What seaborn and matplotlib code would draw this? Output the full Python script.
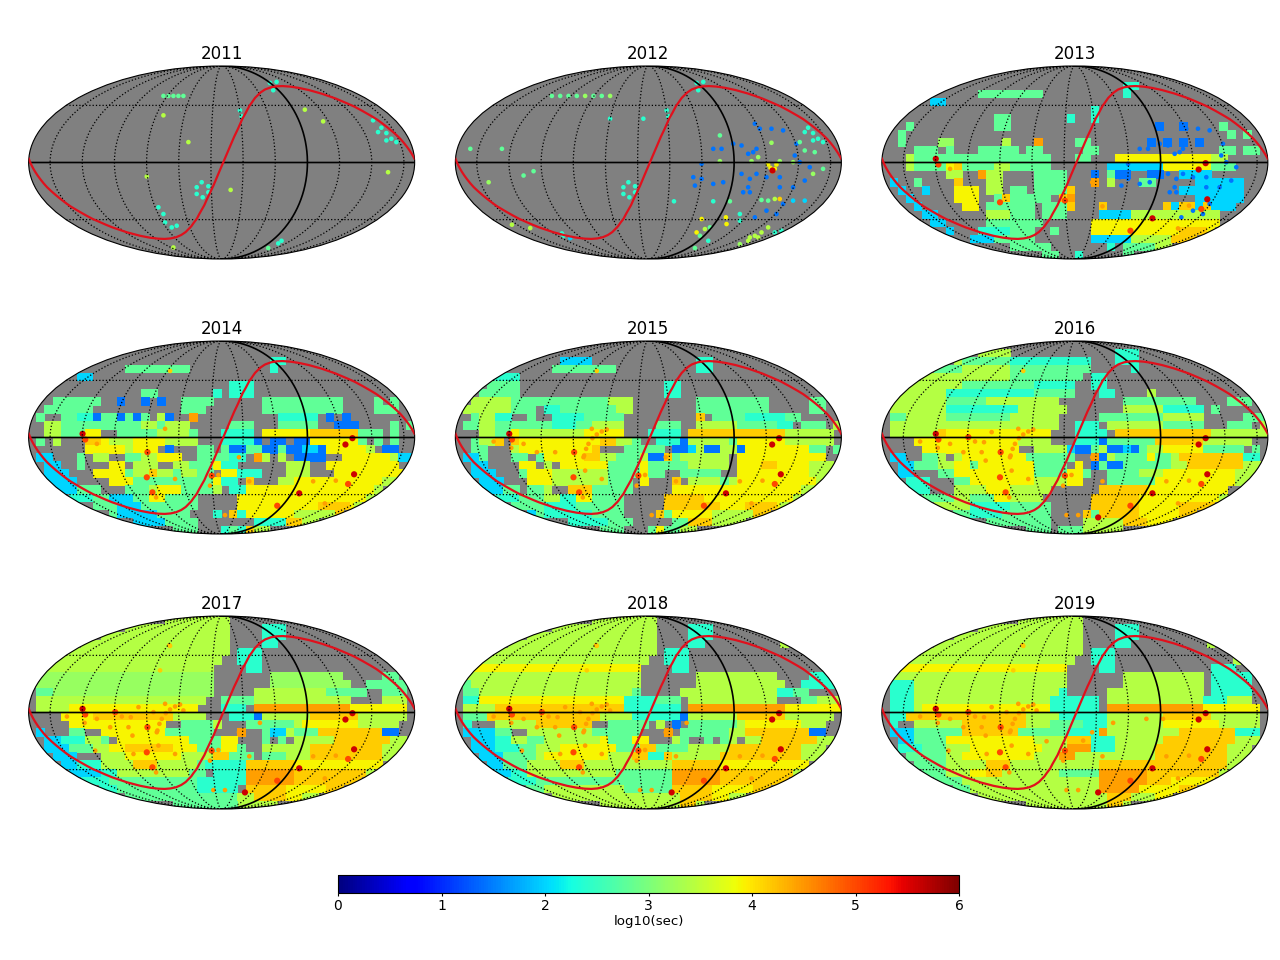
"""
Yearly sky exposure maps in Mollweide projection, 2011-2019.
Values were read by eye off the maps. Each map is a 48x24 raster, run-length
coded as "<count><level>", "." meaning no exposure (grey).
"""
import matplotlib
matplotlib.use("Agg")
import matplotlib.pyplot as plt
import numpy as np
import pandas as pd
import seaborn as sns

years = [2011, 2012, 2013, 2014, 2015, 2016, 2017, 2018, 2019]

# log10(sec) for each level letter
level_names = list("bctglkyaord")
level_values = [1.45, 2.0, 2.4, 2.8, 3.2, 3.4, 3.9, 4.15, 4.45, 5.0, 5.6]

rows_2013 = [
    "", "", "30. 2t", "12. 8g 10. 1t", "6. 2c", "26. 1t",
    "14. 2g 7. 1t 2. 1t", "3. 1g 10. 2g 18. 1b 2. 1b 4. 1g",
    "2. 1g 40. 1g 1. 1g", "2. 1g 4. 2l 6. 1k 3. 1o 4. 2g 7. 1b 1. 1b 1. 1b 1. 1b",
    "4. 3g 1. 1g 3. 5g 1. 2g 5. 2g 15. 2g 1. 2g",
    "3. 1k 17g 3. 2g 3. 12y 2k",
    "3. 1k 4g 1y 1a 4g 2k 5g 7. 7c 6y 3g",
    "8. 2k 2. 1o 2k 4. 4g 3. 1b 1. 1g 2b 2. 2b 2. 4c",
    "1. 1c 2. 1g 4. 1a 3. 2k 4. 4g 3. 1o 1. 1k 3. 2g 5. 6c",
    "2. 1c 2. 1c 3. 3y 1. 2k 1. 2g 1. 4g 1a 13. 8c",
    "3. 1c 5. 3y 2. 1g 1a 5g 1. 1a 1o 15. 6c",
    "4. 1c 5. 2y 1. 6g 1. 3g 1a 3. 1a 7. 1a 1c 2a 1c 1a 3c",
    "5. 2c 6. 3k 3g 1. 3g 4. 4c 11k",
    "6. 2c 5. 7g 6. 16y",
    "8. 1c 3. 4t 3g 2. 1g 4. 11y 4a 1y",
    "11. 3c 5g 7. 5c 5k 4a 1k",
    "16. 5g 7. 1t 1. 4g 2k",
    "20. 2g 2. 1t 5. 2g 1t",
]
rows_2014 = [
    "", "", "30. 2t", "12. 8g 10. 1t", "6. 2c", "25. 3t",
    "14. 2g 7. 1t 1. 3t",
    "3. 6g 2. 1b 2. 1b 1. 1b 2. 4g 6. 10g 4. 1g 1. 1g",
    "2. 6g 11. 3g 7. 10g 4. 3g",
    "1. 1g 2. 2g 2t 1b 2g 1b 1g 1b 1g 1. 1k 1b 2. 1o 10. 5t 1. 1b 1. 1b",
    "2. 2k 10g 2k 1g 3k 5. 3g 3. 5g 2. 3b 4. 1g 1. 1g",
    "2. 2k 3g 2y 2. 5g 4k 1g 3. 4t 1. 6y 6a 3g 1. 1g",
    "1. 1g 1. 1k 3. 2a 1y 3k 4y 4k 3. 4t 1b 1. 2b 1. 2b 6y 1g 1. 1g 1. 1g",
    "7. 5y 1k 3y 1. 1b 3. 2g 1. 1g 2b 2g 2b 1g 2b 2c 1b 5y 1k 1. 2b",
    "1. 2c 3. 1g 1. 2k 2. 2g 2k 3y 2. 4g 2t 1. 1o 1k 1. 1k 1. 4b 2. 6y 1k 3c",
    "2. 2c 2. 1g 3. 2y 1. 3k 2. 2k 3g 1y 2t 6. 3k 2. 9y",
    "2. 3c 3. 4y 1g 2k 1a 2k 1g 2k 2g 1. 2y 3t 3. 3k 3. 9y",
    "2. 4c 4. 3y 8g 2g 1y 2t 1. 1a 3. 2k 11y 2k",
    "3. 3c 3g 3. 3g 1k 3y 4g 1k 1. 2t 16y 1k",
    "5. 3t 2g 3c 2g 2y 4g 5. 16y 2k",
    "8. 3g 3c 5g 2g 5. 10y 4a 1y 1k",
    "10. 1g 5c 4g 3. 1t 1. 1a 1t 6y 6k 3a 1k",
    "13. 4c 4g 7. 4t 2a 4k 4k",
    "18. 3g 3. 1t 1g 1t 1a 2k",
]
rows_2015 = [
    "", "", "13. 4c 13. 2t", "12. 8g 10. 2t", "5. 3t", "4. 4g 18. 2t",
    "3. 5g 18. 2t",
    "2. 5k 3g 9g 3k 8. 9g 5. 2g",
    "1. 3k 3k 3g 1. 2t 7g 2k 8. 9g 5. 2g",
    "2. 1g 2k 2t 2. 1g 2. 4t 5g 9. 1a 1. 4g 5t 2g",
    "1. 2g 2k 5g 2g 3t 2g 4k 4. 3g 2. 5k 5g 2t 1. 3g 1. 1k",
    "3. 2k 2g 1y 5k 3k 5y 3. 4t 1. 6a 6a 6k",
    "2. 1g 2k 1a 1. 1a 1y 9y 2a 2k 1g 2. 3t 1b 5k 1g 6y 6k",
    "2. 2g 3. 1k 9y 1a 3. 5g 1. 2b 1c 1k 2b 2k 1b 2y 6y 2g 1. 1g 1g",
    "1. 2c 1g 3. 2g 1. 1g 5y 2a 2k 3g 1k 2b 1a 1g 6k 1. 11y",
    "2. 2c 4. 2y 1. 1k 1. 6y 4g 1y 5g 5k 1. 3y 2a 4y 3k",
    "2. 3c 3. 1g 3y 7k 2g 2g 1y 2g 2. 5g 2. 9y 3k",
    "3. 3c 3. 3y 7k 3g 1. 1y 3. 1a 1. 4k 1g 1k 10y 1k",
    "3. 3c 2g 1. 2g 1k 2. 3a 5g 5. 16y 2k",
    "5. 3t 3g 2k 2t 2y 4g 5. 5a 11y 1k",
    "7. 4g 4t 6g 5. 7a 3y 4a 1y 1k",
    "9. 1c 1g 6t 4g 4. 1a 1g 5y 5k 5a",
    "14. 5t 3g 5. 2g 3a 5k 1k",
    "18. 3g 3. 1g 1y 2g 2k",
]
rows_2016 = [
    "", "12. 4k 13. 3t",
    "9. 1k 3g 3g 10t 3. 3t 8. 1k",
    "6. 1g 3g 6k 10g 5. 1t",
    "4. 12k 9g 1. 2t",
    "3. 7k 9g 5t 2. 2t",
    "2. 6k 11t 5g 3. 2t 4. 1k",
    "1. 7k 5g 5k 4k 8. 9g 4. 3g",
    "1. 7k 9t 6k 7. 5k 5t 1. 1g",
    "1. 2g 5k 8g 6k 5. 8g 5k 5. 3g",
    "1. 6k 15k 2. 3t 1. 7k 5g 3. 3g 1. 1k",
    "1. 6k 1a 13y 3. 4t 1. 12a 7k",
    "4. 13y 4k 3. 3t 1b 6g 6a 6k",
    "5. 12y 2. 4k 1c 2b 1g 1k 2b 1c 1b 1g 2k 5y 5g 1. 1g",
    "1. 2c 2. 2g 1k 1. 1k 8y 6g 2. 1o 1b 1k 4g 1y 2g 1k 8a 2t",
    "2. 2c 3g 2k 2y 1g 7y 4g 1. 1y 1. 1b 1g 2b 1g 1g 2g 2g 2k 7a 3k",
    "2. 2c 3. 2g 2y 8y 4g 2y 1g 2. 4g 3k 9y 3k",
    "3. 3t 3. 2g 2y 6y 4k 2y 3. 6g 10y 2k",
    "3. 3t 3. 4k 3y 4k 1k 6. 6a 10y",
    "5. 4g 2k 3g 2y 4k 6. 6a 10y 1k",
    "6. 5k 5t 5g 5. 6a 5y 5a",
    "8. 3g 4t 6g 4. 1a 1g 5a 5y 5a",
    "13. 8g 4. 2k 3k 3a 5y 3a",
    "18. 3g 1. 3g 2k 1k 2k",
]
rows_2017 = [
    "17. 8k", "12. 13k 4. 3t", "9. 16k 4. 3t 8. 1k", "6. 19k 4. 2t 12. 1k",
    "4. 21k 1. 3t", "3. 21k 2. 3t", "2. 21k 4. 2t",
    "1. 22l 7. 9l 5. 2g",
    "1. 22l 7. 10l 2. 5g",
    "1. 2g 20l 5. 1k 8k 5g 2. 3g",
    "1. 21k 2. 3g 1g 12k 4. 3k",
    "1. 4k 16y 3. 3t 1. 12o 7y",
    "4. 4y 10a 4k 3. 3t 1b 6k 6a 6k",
    "5. 12y 2. 4g 1k 3. 6g 1k 7y 5k",
    "1. 1c 3. 2g 2. 8y 6g 3. 1o 2. 1g 2c 1k 2g 1g 8a 2b",
    "2. 2c 3t 2k 1g 1. 9y 4g 2y 3. 1g 1. 1g 1. 2k 1k 2k 7a 2k",
    "2. 3c 3g 2k 2y 6a 3y 1g 2g 2y 1g 2. 3k 3k 9a 3k",
    "3. 3c 3. 3k 7y 4k 2a 2g 1g 1. 3g 3k 9a 2k",
    "4. 2c 3t 4k 3a 5k 1g 5t 6a 11y",
    "5. 4c 2t 4k 5k 2g 1. 4t 6o 9a 1k",
    "6. 4t 1g 10g 6t 6o 3a 6a 2y",
    "8. 3t 10g 5t 1. 5a 5y 5a",
    "12. 14g 2k 4a 2y 6k",
    "18. 8g 2k 2k 1k",
]
rows_2018 = [
    "17. 8k", "12. 13k 4. 3t", "9. 16k 4. 3t 8. 1y", "6. 19k 4. 2t 10. 3k",
    "4. 21k 1. 3t", "3. 21k 2. 3t", "2. 21y 4. 2t",
    "1. 22k 7. 10k 4. 3t",
    "1. 1g 21k 7. 11k 2. 5t",
    "1. 2g 19k 1g 5. 9k 3k 2t 2g",
    "1. 2t 18y 4t 3g 1. 11k 3. 2g 3k",
    "1. 4k 16a 3t 4t 1. 12o 7y",
    "1. 3g 14a 4k 3t 3t 1b 6k 6a 6k",
    "1. 1t 3. 5k 7a 2. 5g 1. 1k 1. 1b 1. 6g 1k 7y 3k",
    "1. 4c 2g 2. 8k 6g 3. 1o 1. 1g 5g 2k 8a 2b",
    "2. 3c 2t 2k 2g 7k 1y 3g 2y 3. 1k 1g 2. 1g 1. 1g 1k 1. 2k 7a 2k",
    "2. 3c 3t 2g 3k 7y 3g 2a 4g 3k 2k 9a 3k",
    "3. 3c 4g 1k 6y 2y 3k 2a 2t 1a 6k 10a 3k",
    "4. 2c 3g 4k 3a 5k 6k 6a 11y",
    "5. 2c 2t 6k 5k 2g 5g 6o 9a 1k",
    "6. 4t 11g 6g 6o 3a 6a 2y",
    "8. 3g 10k 6g 5a 5y 5a",
    "12. 14k 2k 4a 2y 6k 2a",
    "18. 8k 2k 2a 1k",
]
rows_2019 = [
    "17. 8k", "12. 13k 4. 3t", "9. 16k 4. 3t 8. 1y", "6. 19k 4. 2t 10. 3k",
    "4. 21k 1. 3t", "3. 21k 2. 3t 15. 1k", "2. 21y 4. 2t 12. 3t",
    "1. 22k 7. 10k 1. 5t",
    "1. 3t 19k 7. 10k 1. 5t",
    "1. 3t 18k 1t 5. 12k 1. 5t",
    "1. 3t 17k 6t 1. 12k 3t 3k",
    "1. 3t 1k 16y 2t 4t 1. 12o 7y",
    "1. 2t 15a 4k 6t 7k 6a 6k",
    "1. 1t 2. 6k 8a 3k 4g 3t 7k 7y 5k",
    "1. 3c 6g 7a 6g 4t 1o 3k 5k 1k 7a 3t",
    "2. 2c 4g 11y 4k 3a 3t 6k 9a 3k",
    "2. 3t 3g 3k 9y 3k 3o 3t 3k 2k 9a 3k",
    "3. 5g 2k 9y 3k 2o 9k 1k 9a 3k",
    "4. 4g 2k 3k 3a 5k 6k 6a 10a 2k",
    "5. 3g 3k 2y 2a 5k 2k 5g 6o 9a 1k",
    "6. 4g 11k 6k 6o 3a 6y 2k",
    "8. 3g 10k 6k 5o 5y 5a",
    "12. 14k 2k 3a 3k 3y 3a 3k",
    "18. 8k 2k 2a 1k",
]
year_rows = {2013: rows_2013, 2014: rows_2014, 2015: rows_2015, 2016: rows_2016,
             2017: rows_2017, 2018: rows_2018, 2019: rows_2019}

# faint patches, position on a 1160x577 map raster whose centre is (605, 366)
spots_2011 = [
    (430, 167, "g"), (445, 167, "g"), (460, 167, "g"), (475, 167, "g"), (490, 167, "g"),
    (530, 440, "t"), (530, 460, "t"), (545, 425, "t"), (565, 437, "t"), (548, 470, "t"),
    (565, 455, "t"), (750, 128, "t"), (770, 125, "t"), (760, 150, "t"), (1085, 262, "t"),
    (1100, 278, "t"), (1115, 295, "t"), (1130, 305, "t"), (1075, 275, "t"), (1100, 300, "t"),
    (1060, 240, "t"), (660, 210, "t"), (665, 228, "t"), (430, 520, "t"), (435, 545, "t"),
    (455, 560, "t"), (470, 555, "t"), (415, 500, "t"), (785, 600, "t"), (775, 608, "t"),
    (745, 622, "g"), (1105, 395, "k"), (632, 448, "k"), (910, 243, "k"), (855, 208, "k"),
    (505, 305, "k"), (380, 408, "k"), (460, 620, "k"), (430, 225, "k"),
]
spots_2012 = [
    (315, 167, "g"), (340, 167, "g"), (365, 167, "g"), (390, 167, "g"), (415, 167, "l"),
    (440, 167, "g"), (465, 167, "g"), (490, 167, "l"),
    (530, 440, "t"), (530, 460, "t"), (545, 425, "t"), (565, 437, "t"), (548, 470, "t"),
    (565, 455, "t"), (750, 128, "t"), (770, 125, "t"), (755, 150, "t"), (1085, 262, "t"),
    (1100, 278, "t"), (1115, 295, "t"), (1130, 305, "t"), (1075, 275, "t"), (1100, 300, "t"),
    (660, 210, "t"), (665, 228, "t"), (590, 235, "t"), (490, 235, "t"), (682, 482, "t"),
    (125, 425, "l"), (70, 325, "g"), (165, 325, "g"), (230, 405, "g"), (260, 392, "g"),
    (800, 325, "b"), (825, 325, "b"), (860, 310, "b"), (885, 315, "b"), (920, 335, "b"),
    (930, 325, "b"), (905, 340, "b"), (1050, 310, "b"), (1045, 345, "b"), (765, 370, "b"),
    (740, 410, "b"), (765, 415, "b"), (745, 435, "b"), (800, 430, "b"), (830, 425, "b"),
    (885, 400, "b"), (910, 415, "b"), (905, 440, "b"), (930, 400, "b"), (960, 410, "b"),
    (1000, 410, "b"), (1040, 440, "b"), (1075, 420, "b"), (1090, 380, "b"), (1060, 365, "b"),
    (1000, 440, "b"), (890, 455, "b"), (910, 455, "b"), (925, 250, "b"), (940, 265, "b"),
    (975, 265, "b"), (1010, 270, "b"), (1040, 480, "c"), (1075, 480, "c"), (925, 530, "b"),
    (960, 510, "b"), (990, 520, "b"), (1010, 490, "b"), (880, 520, "t"), (880, 540, "t"),
    (820, 285, "g"), (975, 307, "l"), (820, 362, "l"), (915, 362, "l"), (935, 350, "l"),
    (1000, 362, "l"), (1040, 365, "l"), (1130, 385, "g"), (1100, 400, "l"), (1060, 305, "g"),
    (1075, 330, "g"), (1105, 335, "g"), (850, 482, "g"), (800, 482, "t"),
    (965, 372, "y"), (990, 372, "y"), (978, 392, "y"), (972, 382, "y"), (985, 385, "y"),
    (945, 478, "g"), (965, 480, "g"), (985, 475, "k"), (1000, 475, "a"),
    (750, 575, "y"), (775, 565, "k"), (790, 560, "g"), (760, 585, "g"), (785, 600, "t"),
    (745, 622, "g"), (880, 610, "l"), (905, 600, "k"), (925, 585, "k"), (945, 575, "k"),
    (965, 560, "k"), (985, 575, "t"), (1005, 570, "t"), (910, 590, "k"), (935, 590, "k"),
    (350, 585, "t"), (370, 592, "c"), (250, 562, "k"), (195, 552, "k"), (345, 578, "t"),
    (765, 535, "y"), (838, 530, "y"), (840, 550, "y"),
]
year_spots = {2011: spots_2011, 2012: spots_2012,
              2013: [s for s in spots_2012 if s[2] == "b"]}

# bright sources and the arc: map position, level, first year they show up
hot_x = [187, 195, 230, 140, 193, 285, 305, 332, 355, 382, 337, 380, 340, 397, 408, 465,
         415, 435, 400, 490, 520, 575, 595, 570, 657, 688, 720, 615, 580, 675, 772, 838,
         977, 998, 1003, 985, 880, 948, 915, 448, 420, 1040, 630, 820, 270, 325, 410, 225,
         870, 450, 412, 418, 425, 437, 450, 465, 480]
hot_y = [355, 372, 385, 378, 397, 365, 378, 380, 350, 410, 435, 485, 490, 530, 545, 490,
         465, 340, 365, 360, 452, 480, 478, 510, 425, 497, 397, 598, 598, 605, 570, 533,
         387, 368, 476, 505, 497, 495, 563, 165, 240, 430, 450, 385, 410, 410, 425, 480,
         385, 167, 420, 400, 385, 368, 357, 348, 342]
hot_level = list("drooorooor" "ororoooooo" "oroooooood" "rddddroooo" "aaoooooooa" "ooooooo")
hot_first = [2013, 2013, 2013, 2015, 2015, 2016, 2016, 2016, 2016, 2014, 2016, 2013, 2017,
             2014, 2014, 2014, 2015, 2014, 2017, 2017, 2019, 2013, 2014, 2014, 2013, 2013,
             2017, 2014, 2016, 2016, 2013, 2013, 2012, 2013, 2013, 2013, 2014, 2013, 2013,
             2017, 2017, 2018, 2019, 2019, 2015, 2015, 2015, 2017, 2019, 2014, 2015, 2015,
             2015, 2015, 2015, 2015, 2015]

plane_lon = [-180, -178.5, -168.5, -158.5, -148.5, -138.5, -128.5, -118.5, -108.5, -98.5, -88.5,
             -78.5, -68.5, -58.5, -48.5, -38.5, -28.5, -18.5, -8.5, 1.5, 11.5, 21.5, 31.5, 41.5,
             51.5, 61.5, 71.5, 81.5, 91.5, 101.5, 111.5, 121.5, 131.5, 141.5, 151.5, 161.5,
             171.5, 180]
plane_lat = [2.9, 0, -18.7, -33.7, -44.3, -51.4, -56.2, -59.4, -61.4, -62.5, -62.9,
             -62.5, -61.4, -59.4, -56.2, -51.4, -44.3, -33.7, -18.7, 0, 18.7, 33.7, 44.3, 51.4,
             56.2, 59.4, 61.4, 62.5, 62.9, 62.5, 61.4, 59.4, 56.2, 51.4, 44.3, 33.7,
             18.7, 2.9]

meridians = [-160, -130, -100, -70, -40, -10, 20, 50, 110, 140, 170]
parallels = [-45, 45]
bar_ticks = [0, 1, 2, 3, 4, 5, 6]

jet = matplotlib.colormaps["jet"]
level_of = dict(zip(level_names, level_values))


def to_sky(x, y):
    # map plane (both -1..1) back to lon/lat so the axes do the projecting
    x, y = np.asarray(x, float), np.asarray(y, float)
    theta = np.arcsin(np.clip(y, -1, 1))
    lat = np.arcsin((2 * theta + np.sin(2 * theta)) / np.pi)
    lon = np.clip(np.pi * x / np.maximum(np.cos(theta), 1e-3), -np.pi, np.pi)
    return lon, lat


def raster_frame(rows):
    xs, ys, vals = [], [], []
    for j, row in enumerate(rows):
        y = 1 - (j + 0.5) / 12
        col = 0
        for run in row.split():
            n, code = int(run[:-1]), run[-1]
            if code != ".":
                for i in range(col, min(col + n, 48)):
                    x = (i + 0.5) / 24 - 1
                    if abs(x) < np.sqrt(1 - y * y) + 0.06:
                        xs.append(x)
                        ys.append(y)
                        vals.append(level_of[code])
            col += n
    lon, lat = to_sky(xs, ys)
    return pd.DataFrame({"lon": lon, "lat": lat, "log_t": vals})


def spot_frame(px, py, codes):
    lon, lat = to_sky((np.array(px) - 605) / 580, (366 - np.array(py)) / 288.5)
    return pd.DataFrame({"lon": lon, "lat": lat, "log_t": [level_of[c] for c in codes]})


def draw_cells(df, ax, s, marker="s"):
    if len(df):
        sns.scatterplot(data=df, x="lon", y="lat", hue="log_t", palette=jet, hue_norm=(0, 6),
                        marker=marker, s=s, linewidth=0, legend=False, ax=ax, zorder=2)


fig = plt.figure(figsize=(12.8, 9.6), dpi=100)
lefts = [28.3, 455, 881.5]
tops = [66, 341, 616]

for k, year in enumerate(years):
    left, top = lefts[k % 3], tops[k // 3]
    ax = fig.add_axes([left / 1280, 1 - (top + 193) / 960, 386.7 / 1280, 193 / 960],
                      projection="mollweide")
    ax.set_facecolor("#808080")

    draw_cells(raster_frame(year_rows.get(year, [])), ax, 38)

    spots = year_spots.get(year, [])
    if spots:
        sx, sy, sc = zip(*spots)
        draw_cells(spot_frame(sx, sy, sc), ax, 11, "o")

    hot = [(x, y, c) for x, y, c, f in zip(hot_x, hot_y, hot_level, hot_first) if f <= year]
    if hot:
        hx, hy, hc = zip(*hot)
        small = [i for i, c in enumerate(hc) if c not in "rd"]
        large = [i for i, c in enumerate(hc) if c in "rd"]
        draw_cells(spot_frame([hx[i] for i in small], [hy[i] for i in small],
                              [hc[i] for i in small]), ax, 11, "o")
        draw_cells(spot_frame([hx[i] for i in large], [hy[i] for i in large],
                              [hc[i] for i in large]), ax, 20, "o")

    # graticule
    lat_line = np.radians(np.linspace(-90, 90, 91))
    lon_line = np.radians(np.linspace(-180, 180, 181))
    for m in meridians:
        ax.plot(np.full(91, np.radians(m)), lat_line, color="k", ls=":", lw=0.9, zorder=3)
    for p in parallels:
        ax.plot(lon_line, np.full(181, np.radians(p)), color="k", ls=":", lw=0.9, zorder=3)
    ax.plot(np.full(91, np.radians(80)), lat_line, color="k", lw=1.2, zorder=3)
    ax.plot(lon_line, np.zeros(181), color="k", lw=1.2, zorder=3)

    plane = pd.DataFrame({"lon": np.radians(plane_lon), "lat": np.radians(plane_lat)})
    sns.lineplot(data=plane, x="lon", y="lat", sort=False, estimator=None, color="#e0101c",
                 lw=1.6, ax=ax, zorder=4)

    ax.grid(False)
    ax.set_xticklabels([])
    ax.set_yticklabels([])
    ax.set_xlabel("")
    ax.set_ylabel("")
    ax.set_title(str(year), fontsize=12, pad=5)

cax = fig.add_axes([338 / 1280, 1 - 893 / 960, 621 / 1280, 18 / 960])
sm = plt.cm.ScalarMappable(norm=plt.Normalize(0, 6), cmap=jet)
cbar = fig.colorbar(sm, cax=cax, orientation="horizontal", ticks=bar_ticks)
cbar.set_label("log10(sec)", fontsize=9.6, labelpad=1)
cbar.ax.tick_params(labelsize=10, length=2.5, pad=2)

fig.savefig("out.png", dpi=100)
